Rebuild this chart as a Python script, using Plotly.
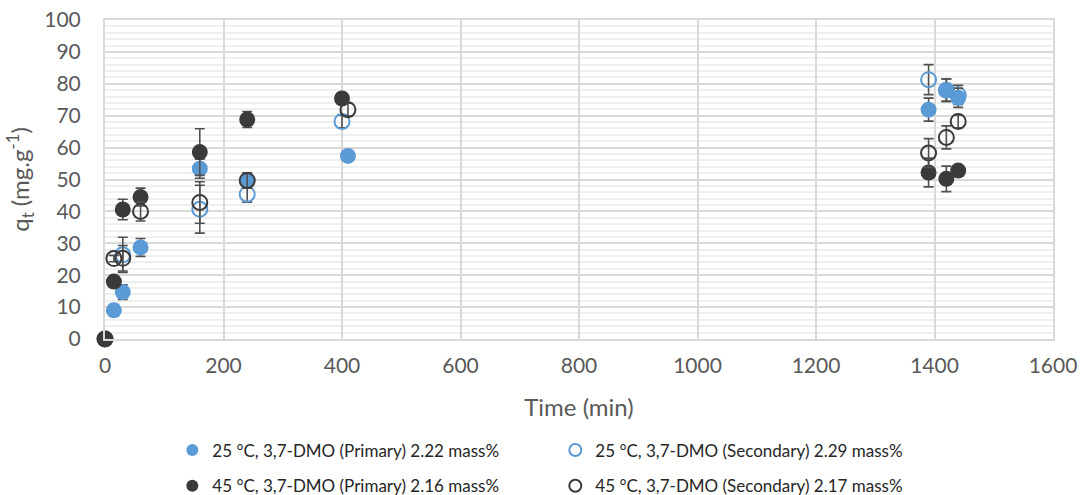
import plotly.graph_objects as go

# Adsorption capacity q_t over time for 3,7-DMO at two temperatures
t_25_primary = [0, 15, 30, 60, 160, 240, 410, 1390, 1420, 1440]
q_25_primary = [0, 9.0, 14.7, 28.7, 53.4, 49.6, 57.4, 71.9, 78.0, 75.6]
e_25_primary = [0, 1.8, 2.3, 2.8, 3.0, 2.0, 1.0, 3.6, 3.5, 3.0]

t_25_secondary = [0, 30, 160, 240, 400, 1390, 1420, 1440]
q_25_secondary = [0, 26.4, 40.7, 45.4, 68.2, 81.3, 78.0, 76.5]
e_25_secondary = [0, 5.5, 7.5, 2.5, 2.0, 4.7, 3.5, 3.0]

t_45_primary = [0, 15, 30, 60, 160, 240, 400, 1390, 1420, 1440]
q_45_primary = [0, 18.0, 40.6, 44.5, 58.6, 68.8, 75.4, 52.2, 50.2, 52.8]
e_45_primary = [0, 1.0, 3.2, 2.8, 7.3, 2.5, 1.5, 4.5, 4.0, 1.5]

t_45_secondary = [0, 15, 30, 60, 160, 240, 410, 1390, 1420, 1440]
q_45_secondary = [0, 25.2, 25.3, 40.0, 42.8, 49.7, 71.9, 58.3, 63.2, 68.2]
e_45_secondary = [0, 1.0, 4.0, 3.0, 6.5, 2.4, 2.0, 4.5, 3.6, 2.0]

names = [
    "25 °C, 3,7-DMO (Primary) 2.22 mass%",
    "25 °C, 3,7-DMO (Secondary) 2.29 mass%",
    "45 °C, 3,7-DMO (Primary) 2.16 mass%",
    "45 °C, 3,7-DMO (Secondary) 2.17 mass%",
]

BLUE = "#5b9bd5"
DARK = "#3a3a3a"
ERR = "#505050"
GRID = "#d9d9d9"
MINOR = "#efefef"
TXT = "#595959"
FONT = "Lato"

fig = go.Figure()


def err(vals):
    return dict(type="data", array=vals, visible=True, color=ERR, thickness=1.6, width=5)


fig.add_trace(go.Scatter(
    x=t_25_secondary, y=q_25_secondary, mode="markers", name=names[1],
    marker=dict(symbol="circle-open", size=15, color=BLUE, line=dict(width=2, color=BLUE)),
    error_y=err(e_25_secondary), legend="legend", legendrank=2, cliponaxis=False))
fig.add_trace(go.Scatter(
    x=t_25_primary, y=q_25_primary, mode="markers", name=names[0],
    marker=dict(symbol="circle", size=16, color=BLUE),
    error_y=err(e_25_primary), legend="legend", legendrank=1, cliponaxis=False))
fig.add_trace(go.Scatter(
    x=t_45_primary, y=q_45_primary, mode="markers", name=names[2],
    marker=dict(symbol="circle", size=16, color=DARK),
    error_y=err(e_45_primary), legend="legend2", legendrank=1, cliponaxis=False))
fig.add_trace(go.Scatter(
    x=t_45_secondary, y=q_45_secondary, mode="markers", name=names[3],
    marker=dict(symbol="circle-open", size=15, color=DARK, line=dict(width=2, color=DARK)),
    error_y=err(e_45_secondary), legend="legend2", legendrank=2, cliponaxis=False))

legend_common = dict(
    orientation="h", xanchor="left", yanchor="top", x=0.071,
    entrywidth=338, entrywidthmode="pixels", itemsizing="constant",
    font=dict(family=FONT, size=17, color="#262626"), bgcolor="rgba(0,0,0,0)",
    traceorder="normal",
)

fig.update_layout(
    width=1083, height=495,
    margin=dict(l=105, r=30, t=20, b=156, autoexpand=False),
    paper_bgcolor="white", plot_bgcolor="white",
    font=dict(family=FONT, color=TXT),
    showlegend=True,
    legend=dict(**legend_common, y=-0.293),
    legend2=dict(**legend_common, y=-0.405),
    xaxis=dict(
        range=[0, 1600], dtick=200, tick0=0,
        showgrid=True, gridcolor=GRID, gridwidth=1.5,
        showline=True, linecolor=GRID, linewidth=2, mirror=True,
        zeroline=False, ticks="", ticklabelstandoff=7,
        tickfont=dict(family=FONT, size=21, color=TXT),
        title=dict(text="Time (min)", font=dict(family=FONT, size=24, color=TXT), standoff=23),
    ),
    yaxis=dict(
        range=[0, 100], dtick=10, tick0=0,
        showgrid=True, gridcolor=GRID, gridwidth=1.5,
        minor=dict(dtick=2, showgrid=True, gridcolor=MINOR, gridwidth=1.5),
        showline=True, linecolor=GRID, linewidth=2, mirror=True,
        zeroline=False, ticks="", ticklabelstandoff=18,
        tickfont=dict(family=FONT, size=21, color=TXT),
        title=dict(text="q<sub>t</sub> (mg.g<sup>-1</sup>)",
                   font=dict(family=FONT, size=24, color=TXT), standoff=8),
    ),
)

fig.write_html("out.html")
